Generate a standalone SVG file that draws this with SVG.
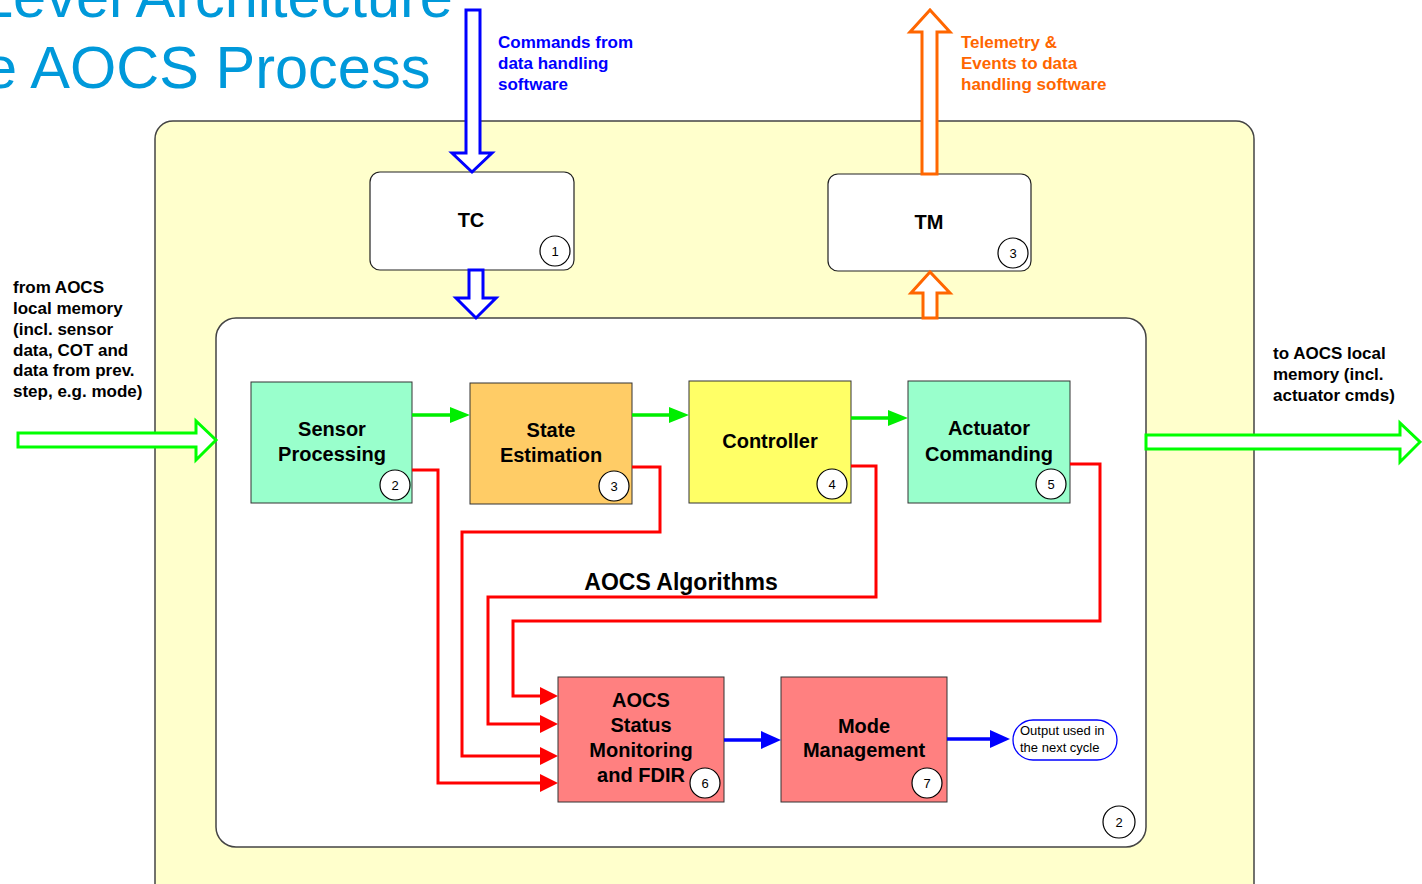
<svg xmlns="http://www.w3.org/2000/svg" width="1422" height="884" viewBox="0 0 1422 884">
  <style>
    text { font-family: "Liberation Sans", Arial, Helvetica, sans-serif; }
    .title { font-size: 59.5px; fill: #0099DA; }
    .lbl { font-size: 17px; font-weight: bold; }
    .blk { font-size: 20px; font-weight: bold; fill: #000; text-anchor: middle; }
    .num { font-size: 13px; fill: #000; text-anchor: middle; }
    .badge { fill: #FFFFFF; stroke: #000; stroke-width: 1.2; }
    .block { stroke: #333; stroke-width: 1; }
    .red { fill: none; stroke: #FF0000; stroke-width: 3; }
    .grn { fill: none; stroke: #00EE00; stroke-width: 3.5; }
    .blu { fill: none; stroke: #0000FF; stroke-width: 3.5; }
    .hollow-b { fill: #FFFFFF; stroke: #0000FF; stroke-width: 3; }
    .hollow-o { fill: #FFFFFF; stroke: #FF6600; stroke-width: 3; }
    .hollow-g { fill: #FFFFFF; stroke: #00FF00; stroke-width: 3; }
  </style>
  <defs>
    <marker id="ah-red" viewBox="0 0 18 18" markerWidth="18" markerHeight="18" refX="8" refY="9" orient="auto" markerUnits="userSpaceOnUse">
      <path d="M0,0 L18,9 L0,18 z" fill="#FF0000"/>
    </marker>
    <marker id="ah-grn" viewBox="0 0 20 16" markerWidth="20" markerHeight="16" refX="10" refY="8" orient="auto" markerUnits="userSpaceOnUse">
      <path d="M0,0 L20,8 L0,16 z" fill="#00EE00"/>
    </marker>
    <marker id="ah-blu" viewBox="0 0 20 18" markerWidth="20" markerHeight="18" refX="10" refY="9" orient="auto" markerUnits="userSpaceOnUse">
      <path d="M0,0 L20,9 L0,18 z" fill="#0000FF"/>
    </marker>
  </defs>

  <rect x="0" y="0" width="1422" height="884" fill="#FFFFFF"/>

  <!-- heading -->
  <g id="heading">
    <text class="title" x="-20" y="17">Level Architecture</text>
    <text class="title" x="-16" y="88">e AOCS Process</text>
  </g>

  <!-- AOCS process container -->
  <g id="process">
    <rect x="155" y="121" width="1099" height="790" rx="18" fill="#FFFFCC" stroke="#444" stroke-width="1.5"/>
  </g>

  <!-- algorithms container -->
  <g id="algorithms">
    <rect x="216" y="318" width="930" height="529" rx="20" fill="#FFFFFF" stroke="#444" stroke-width="1.5"/>
    <text x="681" y="590" style="font-size:23px;font-weight:bold;text-anchor:middle">AOCS Algorithms</text>
    <circle class="badge" cx="1119" cy="822" r="16"/>
    <text class="num" x="1119" y="827">2</text>
  </g>

  <g id="tc">
    <rect x="370" y="172" width="204" height="98" rx="10" fill="#FFFFFF" stroke="#222" stroke-width="1.2"/>
    <text class="blk" x="471" y="227">TC</text>
    <circle class="badge" cx="555" cy="251" r="15"/>
    <text class="num" x="555" y="256">1</text>
  </g>

  <g id="tm">
    <rect x="828" y="174" width="203" height="97" rx="10" fill="#FFFFFF" stroke="#222" stroke-width="1.2"/>
    <text class="blk" x="929" y="229">TM</text>
    <circle class="badge" cx="1013" cy="253" r="15"/>
    <text class="num" x="1013" y="258">3</text>
  </g>

  <g id="sensor-processing">
    <rect class="block" x="251" y="382" width="161" height="121" fill="#99FFCC"/>
    <text class="blk" x="332" y="436">Sensor</text>
    <text class="blk" x="332" y="461">Processing</text>
    <circle class="badge" cx="395" cy="485" r="15"/>
    <text class="num" x="395" y="490">2</text>
  </g>

  <g id="state-estimation">
    <rect class="block" x="470" y="383" width="162" height="121" fill="#FFCC66"/>
    <text class="blk" x="551" y="437">State</text>
    <text class="blk" x="551" y="462">Estimation</text>
    <circle class="badge" cx="614" cy="486" r="15"/>
    <text class="num" x="614" y="491">3</text>
  </g>

  <g id="controller">
    <rect class="block" x="689" y="381" width="162" height="122" fill="#FFFF66"/>
    <text class="blk" x="770" y="448">Controller</text>
    <circle class="badge" cx="832" cy="484" r="15"/>
    <text class="num" x="832" y="489">4</text>
  </g>

  <g id="actuator-commanding">
    <rect class="block" x="908" y="381" width="162" height="122" fill="#99FFCC"/>
    <text class="blk" x="989" y="435">Actuator</text>
    <text class="blk" x="989" y="461">Commanding</text>
    <circle class="badge" cx="1051" cy="484" r="15"/>
    <text class="num" x="1051" y="489">5</text>
  </g>

  <g id="status-monitoring-fdir">
    <rect class="block" x="558" y="677" width="166" height="125" fill="#FF8080"/>
    <text class="blk" x="641" y="707">AOCS</text>
    <text class="blk" x="641" y="732">Status</text>
    <text class="blk" x="641" y="757">Monitoring</text>
    <text class="blk" x="641" y="782">and FDIR</text>
    <circle class="badge" cx="705" cy="783" r="15"/>
    <text class="num" x="705" y="788">6</text>
  </g>

  <g id="mode-management">
    <rect class="block" x="781" y="677" width="166" height="125" fill="#FF8080"/>
    <text class="blk" x="864" y="733">Mode</text>
    <text class="blk" x="864" y="757">Management</text>
    <circle class="badge" cx="927" cy="783" r="15"/>
    <text class="num" x="927" y="788">7</text>
  </g>

  <g id="next-cycle-output">
    <rect x="1013" y="720" width="104" height="40" rx="20" fill="#FFFFFF" stroke="#0000FF" stroke-width="1.3"/>
    <text x="1020" y="735" style="font-size:13px">Output used in</text>
    <text x="1020" y="752" style="font-size:13px">the next cycle</text>
  </g>

  <!-- external interfaces -->
  <g id="commands-label">
    <text class="lbl" x="498" y="48" fill="#0000FF">Commands from</text>
    <text class="lbl" x="498" y="69" fill="#0000FF">data handling</text>
    <text class="lbl" x="498" y="90" fill="#0000FF">software</text>
  </g>
  <g id="telemetry-label">
    <text class="lbl" x="961" y="48" fill="#FF6600">Telemetry &amp;</text>
    <text class="lbl" x="961" y="69" fill="#FF6600">Events to data</text>
    <text class="lbl" x="961" y="90" fill="#FF6600">handling software</text>
  </g>
  <g id="input-label">
    <text class="lbl" x="13" y="293">from AOCS</text>
    <text class="lbl" x="13" y="314">local memory</text>
    <text class="lbl" x="13" y="335">(incl. sensor</text>
    <text class="lbl" x="13" y="356">data, COT and</text>
    <text class="lbl" x="13" y="376">data from prev.</text>
    <text class="lbl" x="13" y="397">step, e.g. mode)</text>
  </g>
  <g id="output-label">
    <text class="lbl" x="1273" y="359">to AOCS local</text>
    <text class="lbl" x="1273" y="380">memory (incl.</text>
    <text class="lbl" x="1273" y="401">actuator cmds)</text>
  </g>

  <!-- connectors -->
  <g id="connectors">
    <!-- block arrows for commands / telemetry / memory -->
    <polygon class="hollow-b" points="466,10 480,10 480,153 492,153 472,172 452,153 466,153"/>
    <polygon class="hollow-b" points="469,270 483,270 483,298 496,298 476,318 456,298 469,298"/>
    <polygon class="hollow-o" points="922,174 922,32 910,32 930,10 950,32 937,32 937,174"/>
    <polygon class="hollow-o" points="923,318 923,293 911,293 930,272 950,293 937,293 937,318"/>
    <polygon class="hollow-g" points="18,433 196,433 196,421 216,440 196,460 196,447 18,447"/>
    <polygon class="hollow-g" points="1146,435 1400,435 1400,423 1420,442 1400,462 1400,449 1146,449"/>

    <!-- algorithm chain -->
    <path class="grn" d="M412,415 H460" marker-end="url(#ah-grn)"/>
    <path class="grn" d="M632,415 H679" marker-end="url(#ah-grn)"/>
    <path class="grn" d="M851,418 H898" marker-end="url(#ah-grn)"/>

    <!-- status feeds into monitoring / FDIR -->
    <path class="red" d="M412,470 H438 V783 H548" marker-end="url(#ah-red)"/>
    <path class="red" d="M632,467 H660 V532 H462 V756 H548" marker-end="url(#ah-red)"/>
    <path class="red" d="M851,466 H876 V597 H488 V724 H548" marker-end="url(#ah-red)"/>
    <path class="red" d="M1070,464 H1100 V621 H513 V696 H548" marker-end="url(#ah-red)"/>

    <!-- FDIR to mode management to next cycle -->
    <path class="blu" d="M724,740 H771" marker-end="url(#ah-blu)"/>
    <path class="blu" d="M947,739 H1000" marker-end="url(#ah-blu)"/>
  </g>
</svg>
